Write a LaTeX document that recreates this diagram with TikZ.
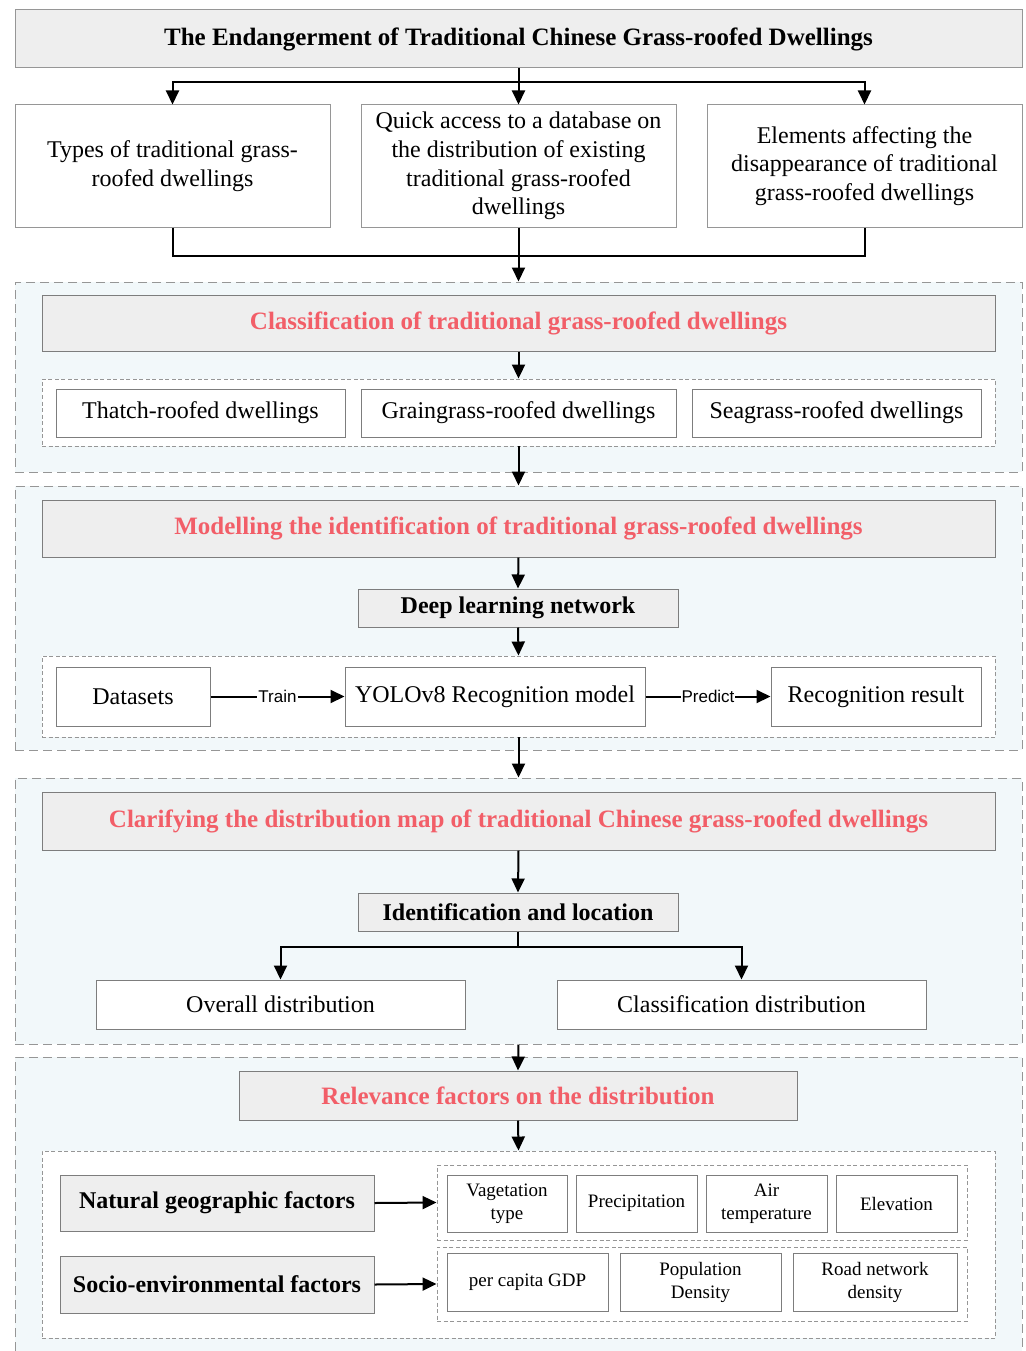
\documentclass[tikz,border=0pt]{standalone}
\usepackage{fontspec}
\setmainfont{Liberation Serif}
\setsansfont{Liberation Sans}
\usepackage{tikz}
\usetikzlibrary{arrows.meta}
\definecolor{secfill}{RGB}{242,248,250}
\definecolor{headfill}{RGB}{238,238,238}
\definecolor{headred}{RGB}{242,94,104}
\definecolor{boxline}{RGB}{125,125,125}
\definecolor{dashline}{RGB}{150,150,150}
\tikzstyle{secframe}=[rectangle, draw=dashline, fill=secfill, dash pattern=on 9pt off 5pt, line width=1pt]
\tikzstyle{factgroup}=[rectangle, draw=dashline, fill=white, dash pattern=on 4pt off 2.5pt, line width=0.9pt]
\tikzstyle{plainbox}=[rectangle, draw=boxline, fill=white, line width=1pt, align=center, inner sep=2pt, font=\fontsize{24}{28.7}\selectfont]
\tikzstyle{greybox}=[plainbox, fill=headfill]
\tikzstyle{redhead}=[greybox, text=headred, font=\fontsize{25}{30}\selectfont\bfseries]
\tikzstyle{boldhead}=[greybox, font=\fontsize{24}{28}\selectfont\bfseries]
\tikzstyle{factor}=[plainbox, font=\fontsize{19}{23}\selectfont]
\tikzstyle{flow}=[line width=2pt]
\tikzstyle{edgetag}=[fill=white, inner sep=1pt, font=\sffamily\fontsize{17}{20}\selectfont]

\begin{document}
\begin{tikzpicture}[x=1pt, y=-1pt, >={Triangle[length=14pt, width=13pt]}]
      \useasboundingbox (0,0) rectangle (1025,1351);

      \node[greybox, draw=dashline, minimum width=1007pt, minimum height=58pt, font=\fontsize{25}{30}\selectfont\bfseries] (title) at (518.5,39) {The Endangerment of Traditional Chinese Grass-roofed Dwellings};
      \node[plainbox, draw=dashline, minimum width=315pt, minimum height=122pt] (b1) at (172.5,166) {Types of traditional grass-\\roofed dwellings};
      \node[plainbox, draw=dashline, minimum width=315pt, minimum height=122pt] (b2) at (518.5,166) {Quick access to a database on\\the distribution of existing\\traditional grass-roofed\\dwellings};
      \node[plainbox, draw=dashline, minimum width=315pt, minimum height=122pt] (b3) at (864.5,166) {Elements affecting the\\disappearance of traditional\\grass-roofed dwellings};

      \node[secframe, minimum width=1007pt, minimum height=190pt] (sec1) at (518.5,377) {};
      \node[secframe, minimum width=1007pt, minimum height=264pt] (sec2) at (518.5,618) {};
      \node[secframe, minimum width=1007pt, minimum height=266pt] (sec3) at (518.5,911) {};
      \fill[secfill] (15,1057) rectangle (1022,1351);
      \draw[draw=dashline, dash pattern=on 9pt off 5pt, line width=1pt] (15,1351) |- (1022,1057) -- (1022,1351);

      \node[redhead, minimum width=953pt, minimum height=56pt] (h1) at (518.5,323) {Classification of traditional grass-roofed dwellings};
      \node[factgroup, minimum width=953pt, minimum height=67pt] (g1) at (518.5,412.5) {};
      \node[plainbox, minimum width=289pt, minimum height=48pt] (t1) at (200.5,413) {Thatch-roofed dwellings};
      \node[plainbox, minimum width=315pt, minimum height=48pt] (t2) at (518.5,413) {Graingrass-roofed dwellings};
      \node[plainbox, minimum width=289pt, minimum height=48pt] (t3) at (836.5,413) {Seagrass-roofed dwellings};

      \node[redhead, minimum width=953pt, minimum height=57pt] (h2) at (518.5,528.5) {Modelling the identification of traditional grass-roofed dwellings};
      \node[boldhead, minimum width=320pt, minimum height=38pt] (dl) at (518,608) {Deep learning network};
      \node[factgroup, minimum width=953pt, minimum height=81pt] (g2) at (518.5,696.5) {};
      \node[plainbox, minimum width=154pt, minimum height=59pt] (ds) at (133,696.5) {Datasets};
      \node[plainbox, minimum width=300pt, minimum height=59pt] (yolo) at (495,696.5) {YOLOv8 Recognition model};
      \node[plainbox, minimum width=210pt, minimum height=59pt] (res) at (876,696.5) {Recognition result};

      \node[redhead, minimum width=953pt, minimum height=58pt] (h3) at (518.5,821) {Clarifying the distribution map of traditional Chinese grass-roofed dwellings};
      \node[boldhead, minimum width=320pt, minimum height=38pt] (il) at (518,912) {Identification and location};
      \node[plainbox, minimum width=369pt, minimum height=49pt] (od) at (280.5,1004.5) {Overall distribution};
      \node[plainbox, minimum width=369pt, minimum height=49pt] (cd) at (741.5,1004.5) {Classification distribution};

      \node[redhead, minimum width=558pt, minimum height=49pt] (h4) at (518,1095.5) {Relevance factors on the distribution};
      \node[factgroup, minimum width=953pt, minimum height=187pt] (g4) at (518.5,1244.5) {};
      \node[boldhead, minimum width=314pt, minimum height=56pt] (nat) at (217,1203) {Natural geographic factors};
      \node[boldhead, minimum width=314pt, minimum height=57pt] (soc) at (217,1284.5) {Socio-environmental factors};
      \node[factgroup, minimum width=530pt, minimum height=75pt] (ng) at (702,1202.5) {};
      \node[factgroup, minimum width=530pt, minimum height=74pt] (sg) at (702,1284) {};
      \node[factor, minimum width=120pt, minimum height=57pt] (f1) at (507,1203.5) {Vagetation\\type};
      \node[factor, minimum width=121pt, minimum height=57pt] (f2) at (636.5,1203.5) {Precipitation};
      \node[factor, minimum width=121pt, minimum height=57pt] (f3) at (766.5,1203.5) {Air\\temperature};
      \node[factor, minimum width=121pt, minimum height=57pt] (f4) at (896.5,1203.5) {Elevation};
      \node[factor, minimum width=161pt, minimum height=58pt] (f5) at (527.5,1282) {per capita GDP};
      \node[factor, minimum width=161pt, minimum height=58pt] (f6) at (700.5,1282) {Population\\Density};
      \node[factor, minimum width=164pt, minimum height=58pt] (f7) at (875,1282) {Road network\\density};

      \draw[flow, ->] (title.south) -- (b2.north);
      \draw[flow, ->] ([yshift=-14pt]title.south) -| (b1.north);
      \draw[flow, ->] ([yshift=-14pt]title.south) -| (b3.north);
      \draw[flow] (b1.south) |- ([yshift=-28pt]b2.south) -| (b3.south);
      \draw[flow, ->] (b2.south) -- (sec1.north);

      \draw[flow, ->] (h1.south) -- (g1.north);
      \draw[flow, ->] (g1.south) -- (sec2.north);

      \draw[flow, ->] (h2.south) -- (dl.north);
      \draw[flow, ->] (dl.south) -- (g2.north);
      \draw[flow, ->] (ds.east) -- node[edgetag] {Train} (yolo.west);
      \draw[flow, ->] (yolo.east) -- node[edgetag] {Predict} (res.west);
      \draw[flow, ->] (g2.south) -- (sec3.north);

      \draw[flow, ->] (h3.south) -- (il.north);
      \draw[flow, ->] (il.south) -- ++(0,15) -| (od.north);
      \draw[flow, ->] (il.south) -- ++(0,15) -| (cd.north);
      \draw[flow, ->] (sec3.south) -- (h4.north);

      \draw[flow, ->] (h4.south) -- (g4.north);
      \draw[flow, ->] (nat.east) -- (ng.west);
      \draw[flow, ->] (soc.east) -- (sg.west);
\end{tikzpicture}
\end{document}
